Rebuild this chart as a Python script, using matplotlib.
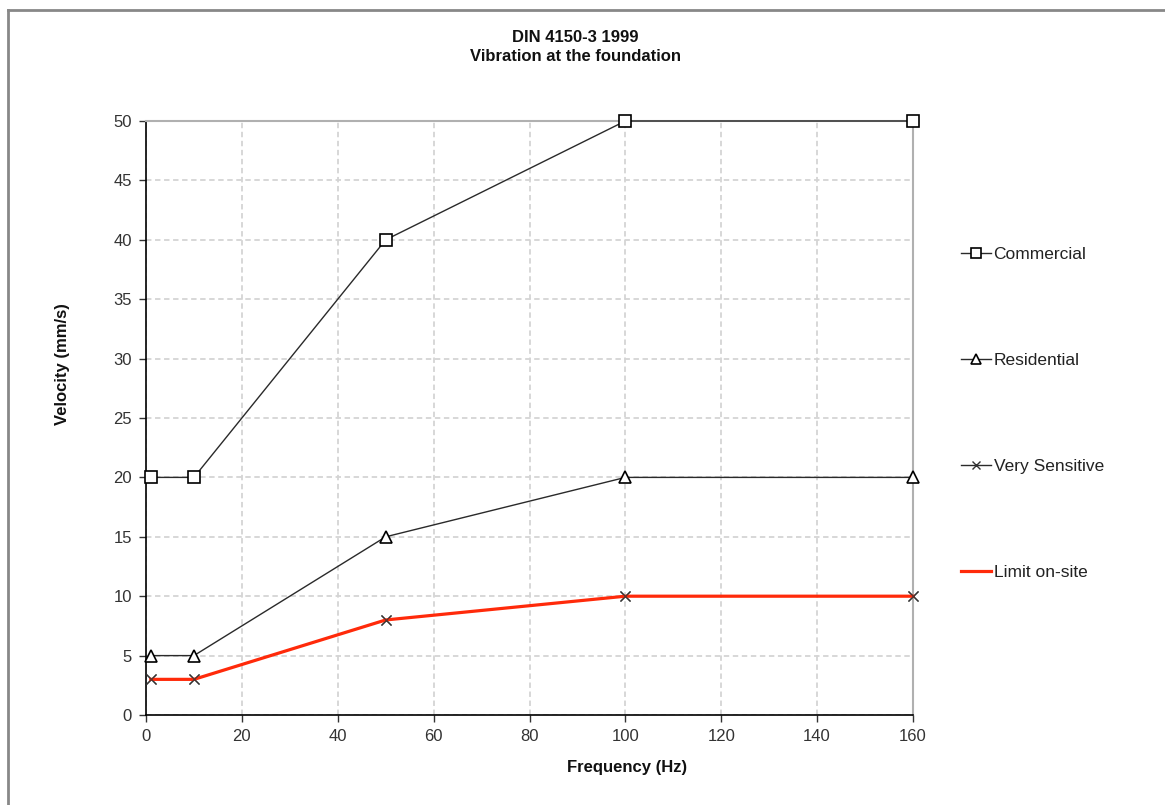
import matplotlib
matplotlib.use("Agg")
import matplotlib.pyplot as plt
from matplotlib.lines import Line2D

plt.rcParams["font.family"] = ["Liberation Sans", "DejaVu Sans"]

# ── Data ────────────────────────────────────────────────────────────────────────
freq = [1, 10, 50, 100, 160]
commercial = [20, 20, 40, 50, 50]
residential = [5, 5, 15, 20, 20]
very_sensitive = [3, 3, 8, 10, 10]
limit_on_site = [3, 3, 8, 10, 10]

x_ticks = list(range(0, 161, 20))
y_ticks = list(range(0, 51, 5))

W, H = 1165, 805
fig = plt.figure(figsize=(W / 100, H / 100), dpi=100)
ax = fig.add_axes([146 / W, 1 - 715 / H, (913 - 146) / W, (715 - 121) / H])

line_col = "#2a2a2a"
ax.plot(freq, commercial, color=line_col, lw=1.0, marker="s", ms=8.5,
        mfc="white", mec="black", mew=1.2, zorder=4, clip_on=False, label="Commercial")
ax.plot(freq, residential, color=line_col, lw=1.0, marker="^", ms=8.5,
        mfc="white", mec="black", mew=1.2, zorder=4, clip_on=False, label="Residential")
ax.plot(freq, very_sensitive, color=line_col, lw=1.0, marker="x", ms=6.5,
        mec="#333333", mew=1.0, zorder=3, clip_on=False, label="Very Sensitive")
ax.plot(freq, limit_on_site, color="#ff2a0a", lw=2.3, zorder=3.5, clip_on=False,
        label="Limit on-site")
# keep the x markers visible over the red line
ax.plot(freq, very_sensitive, ls="none", marker="x", ms=6.5, mec="#333333",
        mew=0.9, alpha=0.8, zorder=3.6, clip_on=False)

ax.set_xlim(0, 160)
ax.set_ylim(0, 50)
ax.set_xticks(x_ticks)
ax.set_yticks(y_ticks)
ax.tick_params(axis="both", direction="out", length=5, width=1, labelsize=12,
               colors="#333333", pad=5)
ax.grid(True, color="#d4d4d4", linestyle=(0, (3, 2)), lw=1.3)
ax.set_axisbelow(True)

for side in ("left", "bottom"):
    ax.spines[side].set_color("black")
    ax.spines[side].set_linewidth(1.2)
for side in ("top", "right"):
    ax.spines[side].set_color("#b0b0b0")
    ax.spines[side].set_linewidth(1.5)

# ── Titles & labels ─────────────────────────────────────────────────────────────
fig.text(575 / W, 1 - 47 / H, "DIN 4150-3 1999\nVibration at the foundation",
         ha="center", va="center", fontsize=12, fontweight="bold",
         linespacing=1.3, color="#111111")
fig.text(62 / W, 1 - 364 / H, "Velocity (mm/s)", rotation=90, ha="center",
         va="center", fontsize=12, fontweight="bold", color="#111111")
fig.text(627 / W, 1 - 767 / H, "Frequency (Hz)", ha="center", va="center",
         fontsize=12, fontweight="bold", color="#111111")

# ── Legend ──────────────────────────────────────────────────────────────────────
handles, labels = ax.get_legend_handles_labels()
leg = fig.legend(handles, labels, loc="upper left",
                 bbox_to_anchor=(945 / W, 1 - 231 / H), frameon=False,
                 fontsize=12.5, handlelength=1.75, handletextpad=0.15,
                 labelspacing=5.24, markerscale=0.9)
for t in leg.get_texts():
    t.set_color("#222222")

# ── Outer frame (only top/left visible) ─────────────────────────────────────────
fig.add_artist(Line2D([8 / W, 1], [1 - 10 / H, 1 - 10 / H], transform=fig.transFigure,
                      color="#888888", lw=2))
fig.add_artist(Line2D([8 / W, 8 / W], [0, 1 - 10 / H], transform=fig.transFigure,
                      color="#888888", lw=2))

fig.savefig("out.png", dpi=100, facecolor="white")
